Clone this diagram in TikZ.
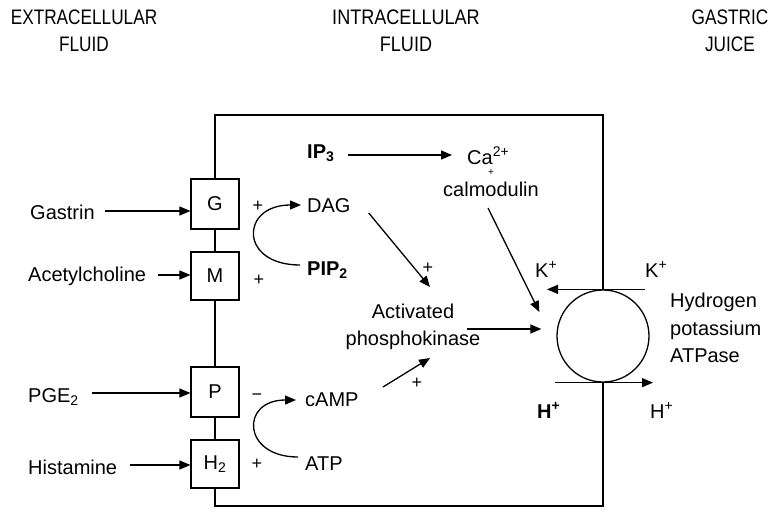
\documentclass[tikz,border=0pt]{standalone}
\usepackage{fontspec}
\setmainfont{Liberation Sans}
\usetikzlibrary{arrows.meta}
\begin{document}
\begin{tikzpicture}[x=1pt,y=-1pt,
  lab/.style={inner sep=0pt,font=\fontsize{20}{24}\selectfont},
  blab/.style={inner sep=0pt,font=\fontsize{20}{24}\selectfont\bfseries},
  hdr/.style={inner sep=0pt,align=center,anchor=north,font=\fontsize{21}{27}\selectfont},
  rbox/.style={draw,line width=1.1pt,minimum width=48pt,inner sep=0pt,font=\fontsize{20}{22}\selectfont,fill=white},
  sgn/.style={inner sep=0pt,font=\fontsize{18}{18}\selectfont},
  arr/.style={line width=1.3pt,-{Triangle[length=11pt,width=9pt]}},
  cell/.style={line width=1.3pt}]
\useasboundingbox (0,0) rectangle (779,512);

% headers
\node[hdr] (hext) at (84,10) {\scalebox{0.82}[1]{EXTRACELLULAR}\\\scalebox{0.82}[1]{FLUID}};
\node[hdr] (hint) at (406,10) {\scalebox{0.86}[1]{INTRACELLULAR}\\\scalebox{0.86}[1]{FLUID}};
\node[hdr] (hgas) at (730,10) {\scalebox{0.82}[1]{GASTRIC}\\\scalebox{0.82}[1]{JUICE}};

% receptors
\node[rbox,minimum height=50pt] (G) at (215,204) {G};
\node[rbox,minimum height=48pt] (M) at (215,276) {M};
\node[rbox,minimum height=50pt] (P) at (215,392) {P};
\node[rbox,minimum height=48pt] (H2) at (215,464) {H\textsubscript{2}};

% pump
\node[draw,circle,line width=1.3pt,minimum size=92pt,inner sep=0pt] (pump) at (603,336) {};

% cell outline
\coordinate (ctop) at (603,115);
\coordinate (cbot) at (603,506);
\draw[cell] (G.north) |- (ctop) -- (pump.north);
\draw[cell] (pump.south) -- (cbot) -| (H2.south);
\draw[cell] (G.south) -- (M.north);
\draw[cell] (M.south) -- (P.north);
\draw[cell] (P.south) -- (H2.north);

% extracellular labels
\node[lab,anchor=base west] (gas) at (30,219) {Gastrin};
\node[lab,anchor=base west] (ach) at (28,281) {Acetylcholine};
\node[lab,anchor=base west] (pge) at (28,402) {PGE\textsubscript{2}};
\node[lab,anchor=base west] (his) at (28,474) {Histamine};
\draw[arr] ([shift={(10,-8)}]gas.base east) coordinate (gasS) -- (gasS -| G.west);
\draw[arr] ([shift={(12,-6)}]ach.base east) coordinate (achS) -- (achS -| M.west);
\draw[arr] ([shift={(13,-9)}]pge.base east) coordinate (pgeS) -- (pgeS -| P.west);
\draw[arr] ([shift={(13,-9)}]his.base east) coordinate (hisS) -- (hisS -| H2.west);

% signs at receptors
\node[sgn] (sG) at (258,206) {+};
\node[sgn] (sM) at (259,280) {+};
\node[sgn] (sP) at (257,397) {−};
\node[sgn] (sH) at (257,464) {+};

% intracellular
\node[blab,anchor=base west] (ip3) at (307,158) {IP\textsubscript{3}};
\node[lab,anchor=base west] (ca) at (467,164) {Ca\textsuperscript{2+}};
\node[sgn,font=\fontsize{10}{10}\selectfont] (cap) at (491,173) {+};
\node[lab,anchor=base] (calm) at (491,196) {calmodulin};
\node[lab,anchor=base west] (dag) at (307,212) {DAG};
\node[blab,anchor=base west] (pip) at (307,275) {PIP\textsubscript{2}};
\node[lab,anchor=base] (act) at (413,318) {Activated};
\node[lab,anchor=base] (act2) at (413,345) {phosphokinase};
\node[lab,anchor=base west] (camp) at (305,406) {cAMP};
\node[lab,anchor=base west] (atp) at (305,470) {ATP};
\node[sgn] (sDag) at (428,268) {+};
\node[sgn] (sCamp) at (417,383) {+};

% ions
\node[lab,anchor=base west] (kl) at (535,277) {K\textsuperscript{+}};
\node[lab,anchor=base west] (kr) at (645,277) {K\textsuperscript{+}};
\node[blab,anchor=base west] (hl) at (537,418) {H\textsuperscript{+}};
\node[lab,anchor=base west] (hr) at (650,418) {H\textsuperscript{+}};
\node[lab,anchor=north west,align=left,font=\fontsize{20}{27.5}\selectfont] (atpase) at (670,293) {Hydrogen\\potassium\\ATPase};

% arrows
\draw[arr] ([shift={(41,-3)}]ip3.base west) -- ([shift={(-15,-9)}]ca.base west);
\draw[arr] ([shift={(18,1)}]dag.base east) -- ([shift={(17,-31)}]act.base);
\draw[arr] ([shift={(-3,12)}]calm.base) -- ([shift={(-17,-24)}]pump.west);
\draw[arr] ([shift={(54,-16)}]act2.base) -- ([shift={(-15,-7)}]pump.west);
\draw[arr] ([shift={(78,-19)}]camp.base west) -- ([shift={(17,13)}]act2.base);
\draw[arr] ([shift={(-7,-10)}]pip.base west) .. controls +(-61,0) and +(-61,0) .. ([shift={(-6,-7)}]dag.base west);
\draw[arr] ([shift={(-7,-13)}]atp.base west) .. controls +(-56,0) and +(-56,0) .. ([shift={(-9,-6)}]camp.base west);
\draw[arr] ([shift={(42,0)}]pump.north) -- ([shift={(-56,0)}]pump.north);
\draw[arr] ([shift={(-48,0)}]pump.south) -- ([shift={(50,0)}]pump.south);
\end{tikzpicture}
\end{document}
